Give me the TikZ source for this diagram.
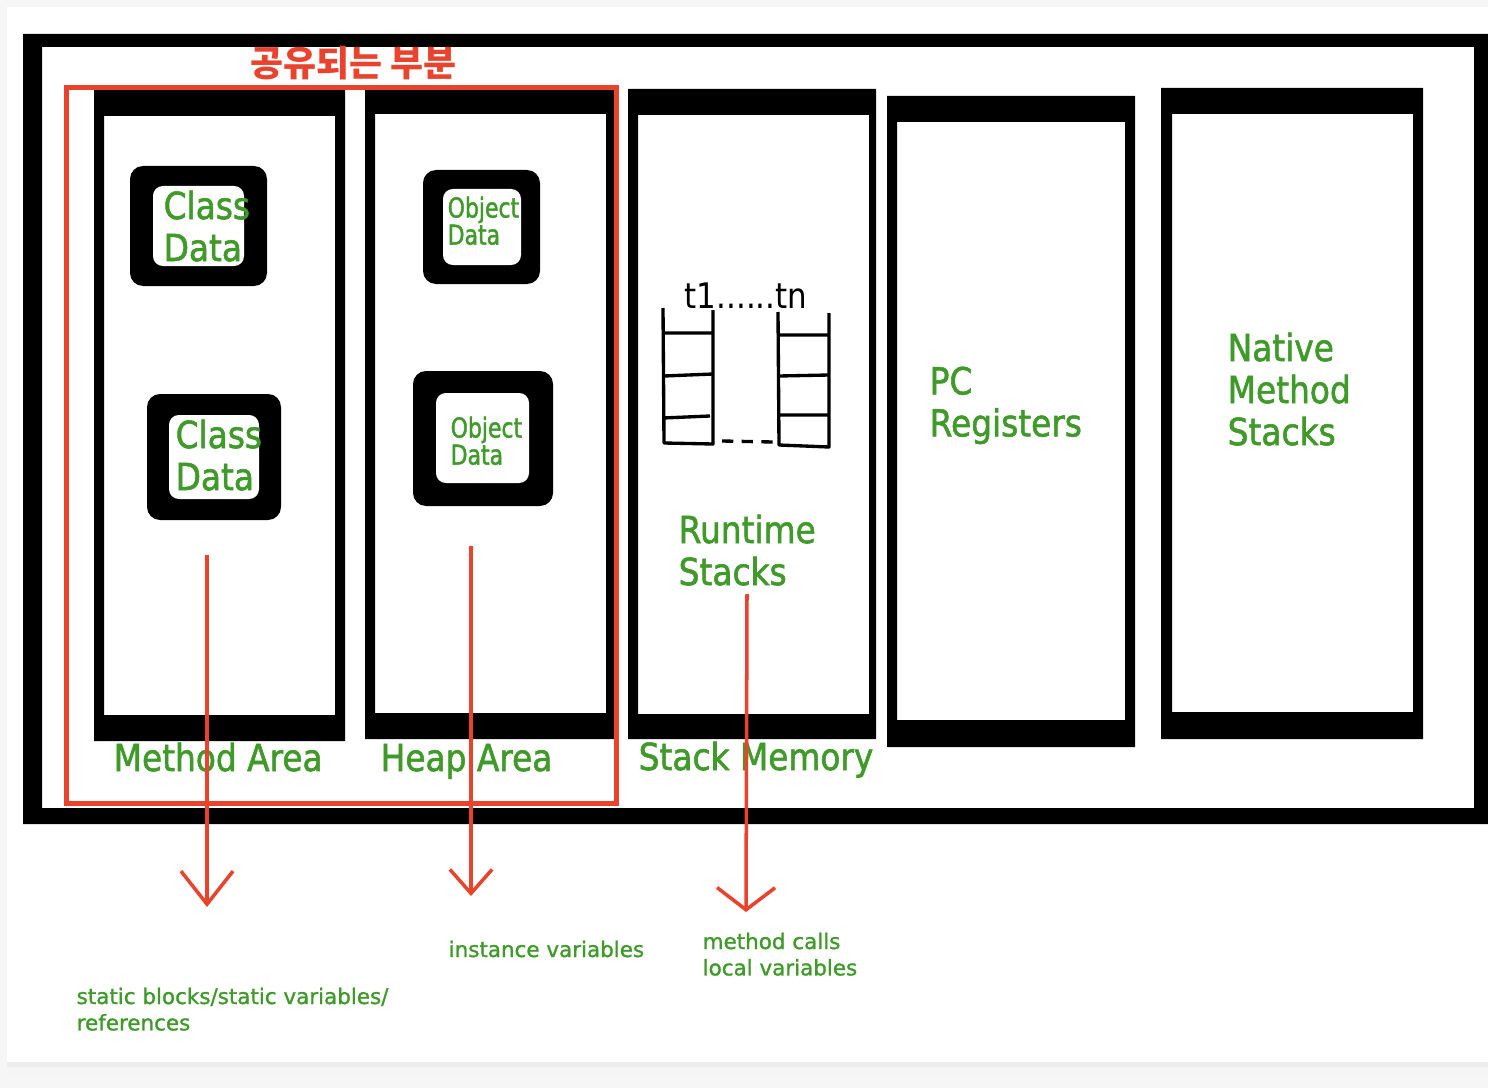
\documentclass[tikz,border=0pt]{standalone}
\usepackage{fontspec}
\usetikzlibrary{arrows.meta, positioning}

\newfontfamily\bigfont{DejaVu Sans}[FakeStretch=0.88, FakeBold=1.5]
\newfontfamily\objfont{DejaVu Sans}[FakeStretch=0.8, FakeBold=1.5]
\newfontfamily\notefont{DejaVu Sans}[FakeBold=1.2]
\newfontfamily\plainfont{DejaVu Sans}[FakeStretch=0.88]
\newfontfamily\krfont{Noto Sans CJK KR}

\definecolor{jvgreen}{RGB}{63,154,42}
\definecolor{jvred}{RGB}{234,67,45}
\definecolor{pagegray}{RGB}{246,246,246}

\begin{document}
\begin{tikzpicture}[x=0.01cm, y=-0.01cm,
      lbl/.style={font=\bigfont\fontsize{10.6pt}{11.95pt}\selectfont, text=jvgreen, inner sep=0pt, align=left},
      objlbl/.style={font=\objfont\fontsize{7.8pt}{7.7pt}\selectfont, text=jvgreen, inner sep=0pt, align=left},
      note/.style={font=\notefont\fontsize{6.1pt}{7.5pt}\selectfont, text=jvgreen, inner sep=0pt, align=left},
      ladder/.style={draw, line width=0.95pt, line join=round},
      redarrow/.style 2 args={draw=jvred, line width=1pt, -{Straight Barb[length=#1, width=#2]}}]

      \useasboundingbox (0,0) rectangle (1488,1088);

      % page card
      \fill[pagegray] (0,0) rectangle (1488,1088);
      \fill[gray!14] (7,1062) rectangle (1488,1067);
      \fill[gray!8] (7,1067) rectangle (1488,1075);
      \fill[white] (7,7) rectangle (1488,1062);

      % JVM frame
      \fill[even odd rule] (23,34) rectangle (1488,824) (42,47) rectangle (1474,808);

      % memory areas
      \foreach \ox/\oy/\ex/\ey/\ix/\iy/\jx/\jy in {94/90/345/741/104/116/335/715,
          365/90/614/739/375/114/606/713, 628/89/876/739/638/115/869/714,
          887/96/1135/747/897/122/1125/720, 1161/88/1423/739/1172/114/1413/712}
        \fill[even odd rule] (\ox,\oy) rectangle (\ex,\ey) (\ix,\iy) rectangle (\jx,\jy);

      % class and object data blocks
      \foreach \ox/\oy/\ex/\ey/\ix/\iy/\jx/\jy in {130/166/267/286/153/186/244/266,
          147/394/281/520/169/415/259/499, 423/170/540/284/443/189/521/265,
          413/371/553/506/436/393/529/483} {
        \fill[rounded corners=3.7pt] (\ox,\oy) rectangle (\ex,\ey);
        \fill[white, rounded corners=2.8pt] (\ix,\iy) rectangle (\jx,\jy);
      }

      % shared part
      \draw[jvred, line width=1.42pt] (66.5,87.5) rectangle (616.5,803);
      \node[anchor=base west, inner sep=0pt, text=jvred, font=\krfont\bfseries\fontsize{10.2pt}{12pt}\selectfont] (shared) at (250,77) {공유되는 부분};

      % thread stacks
      \draw[ladder] (663,308) -- (664,443) -- (713,444) -- (713,310);
      \draw[ladder] (664,333) -- (713,333) (664,376) -- (713,374) (663,418) -- (710,416);
      \draw[ladder] (778,312) -- (779,445) -- (829,447) -- (829,313);
      \draw[ladder] (777,335) -- (829,335) (779,376) -- (829,375) (779,415) -- (829,415);
      \draw[line width=0.95pt, dash pattern=on 3.2pt off 2.4pt] (722,441) -- (773,442);
      \node[anchor=base west, inner sep=0pt, font=\plainfont\fontsize{10pt}{12pt}\selectfont] (threads) at (684,308) {t1......tn};

      % labels
      \node[lbl, anchor=north west] (classa) at (163,190) {Class\\Data};
      \node[lbl, anchor=north west] (classb) at (175,419) {Class\\Data};
      \node[objlbl, anchor=north west] (obja) at (447,196) {Object\\Data};
      \node[objlbl, anchor=north west] (objb) at (450,416) {Object\\Data};
      \node[lbl, anchor=north west] (runtime) at (678,514) {Runtime\\Stacks};
      \node[lbl, anchor=north west] (pcreg) at (929,366) {PC\\Registers};
      \node[lbl, anchor=north west] (native) at (1227,332) {Native\\Method\\Stacks};

      \node[lbl, anchor=base west] (method) at (113,771) {Method Area};
      \node[lbl, anchor=base west] (heap) at (380,771) {Heap Area};
      \node[lbl, anchor=base west] (stack) at (638,770) {Stack Memory};

      \node[note, anchor=north west] (staticnote) at (76,987) {static blocks/static variables/\\references};
      \node[note, anchor=base west] (instnote) at (448,957) {instance variables};
      \node[note, anchor=north west] (callnote) at (702,932) {method calls\\local variables};

      % Arrows
      \coordinate (mtail) at (207,555);
      \coordinate (mhead) at (207,907);
      \coordinate (htail) at (471,546);
      \coordinate (hhead) at (471,896);
      \coordinate (stail) at (747,594);
      \coordinate (shead) at (746,912);
      \draw[redarrow={9.4pt}{14.8pt}] (mtail) -- (mhead);
      \draw[redarrow={6.8pt}{12pt}] (htail) -- (hhead);
      \draw[redarrow={6.3pt}{16.5pt}] (stail) -- (shead);
\end{tikzpicture}
\end{document}
